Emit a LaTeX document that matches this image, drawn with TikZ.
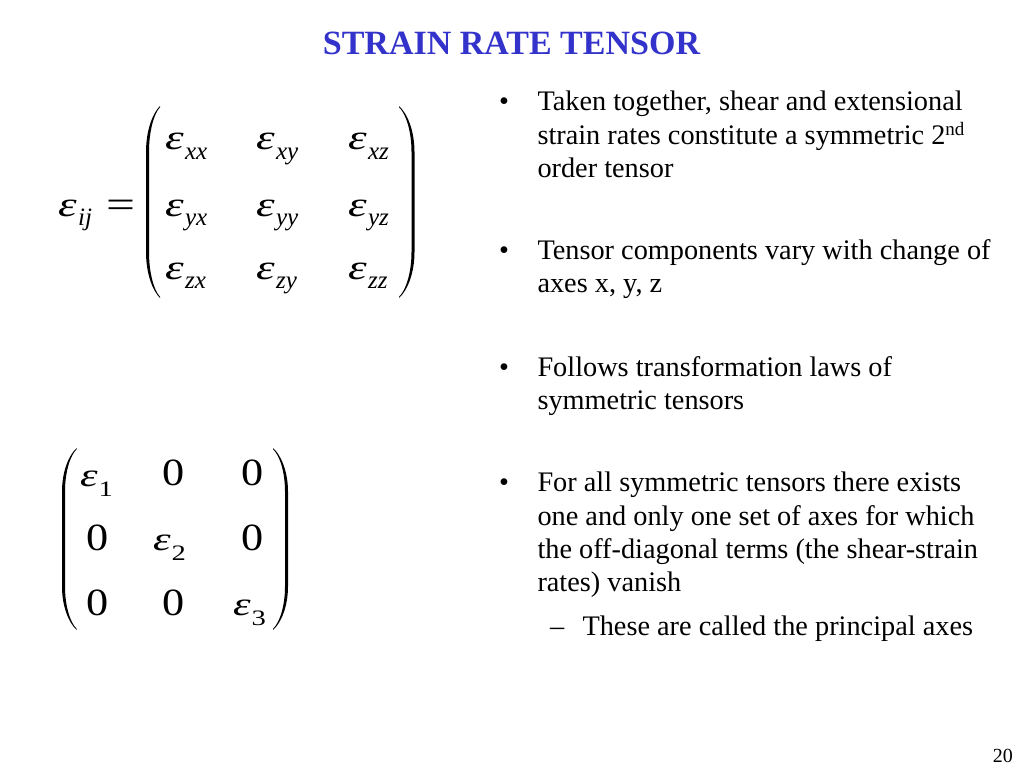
\documentclass[tikz,border=0pt]{standalone}
\usepackage{fontspec}
\usepackage{graphicx}
\setmainfont{Liberation Serif}
\definecolor{titleblue}{RGB}{51,51,204}
\newcommand\bodyfont{\fontsize{28.3}{33}\selectfont}
\newcommand\epsA[1]{\scalebox{1.35}[1]{\fontsize{35}{35}\selectfont\itshape ε}\hspace{1.5pt}\raisebox{-9.5pt}{\fontsize{25}{25}\selectfont\itshape #1}}
\newcommand\epsB[1]{\scalebox{1.35}[1]{\fontsize{33}{33}\selectfont\itshape ε}\hspace{1pt}\raisebox{-10pt}{\scalebox{1.3}[1]{\fontsize{22}{22}\selectfont #1}}}
% paren: #1 tip x, #2 outer x, #3 top y, #4 bottom y, #5 thickness (signed toward tip)
\newcommand\myParen[5]{%
  \pgfmathsetmacro\myD{#1-(#2)}%
  \pgfmathsetmacro\myH{#4-(#3)}%
  \pgfmathsetmacro\myOa{#2+0.45*\myD}%
  \pgfmathsetmacro\myIx{#2+#5}%
  \pgfmathsetmacro\myIa{\myIx+0.45*(\myD-#5)}%
  \pgfmathsetmacro\myYa{#3+0.04*\myH}%
  \pgfmathsetmacro\myYb{#3+0.13*\myH}%
  \pgfmathsetmacro\myYc{#3+0.24*\myH}%
  \pgfmathsetmacro\myYd{#4-0.24*\myH}%
  \pgfmathsetmacro\myYe{#4-0.13*\myH}%
  \pgfmathsetmacro\myYf{#4-0.04*\myH}%
  \pgfmathsetmacro\myTa{#3+1.2}%
  \pgfmathsetmacro\myTb{#4-1.2}%
  \fill (#1,#3) .. controls (\myOa,\myYa) and (#2,\myYb) .. (#2,\myYc) -- (#2,\myYd)
     .. controls (#2,\myYe) and (\myOa,\myYf) .. (#1,#4) -- (#1,\myTb)
     .. controls (\myIa,\myYf) and (\myIx,\myYe) .. (\myIx,\myYd) -- (\myIx,\myYc)
     .. controls (\myIx,\myYb) and (\myIa,\myYa) .. (#1,\myTa) -- cycle;%
}
\tikzset{
  txt/.style={inner sep=0pt, outer sep=0pt, anchor=base west, font=\bodyfont},
  ent/.style={inner sep=0pt, outer sep=0pt, anchor=base west},
  zero/.style={inner sep=0pt, outer sep=0pt, anchor=base, xscale=1.15, font=\fontsize{38.5}{38.5}\selectfont},
}
\begin{document}
\begin{tikzpicture}[x=1pt,y=-1pt]
\useasboundingbox[fill=white] (0,0) rectangle (1024,768);
% title
\node[inner sep=0pt, anchor=base, text=titleblue, font=\fontsize{34}{34}\selectfont\bfseries] (title) at (511.5,55) {STRAIN RATE TENSOR};
% bullets
\node[txt] (b1) at (499,110.7) {•};
\node[txt] (l11) at (537.5,110.7) {Taken together, shear and extensional};
\node[txt] (l12) at (537.5,144) {strain rates constitute a symmetric 2\raisebox{9pt}{\fontsize{19}{19}\selectfont nd}};
\node[txt] (l13) at (537.5,177.3) {order tensor};
\node[txt] (b2) at (499,259.3) {•};
\node[txt] (l21) at (537.5,259.3) {Tensor components vary with change of};
\node[txt] (l22) at (537.5,292.7) {axes x, y, z};
\node[txt] (b3) at (499,376) {•};
\node[txt] (l31) at (537.5,376) {Follows transformation laws of};
\node[txt] (l32) at (537.5,409.3) {symmetric tensors};
\node[txt] (b4) at (499,491.7) {•};
\node[txt] (l41) at (537.5,491.7) {For all symmetric tensors there exists};
\node[txt] (l42) at (537.5,525) {one and only one set of axes for which};
\node[txt] (l43) at (537.5,558.3) {the off-diagonal terms (the shear-strain};
\node[txt] (l44) at (537.5,591.7) {rates) vanish};
\node[txt] (d1) at (550,635) {–};
\node[txt] (l51) at (582.5,635) {These are called the principal axes};
% page number
\node[inner sep=0pt, anchor=base east, font=\fontsize{20}{20}\selectfont] (pg) at (1013,762) {20};
% matrix 1
\node[ent] (eij) at (58,216) {\scalebox{1.35}[1]{\fontsize{35}{35}\selectfont\itshape ε}\hspace{1.5pt}\raisebox{-9.5pt}{\fontsize{25}{25}\selectfont\itshape ij}};
\node[inner sep=0pt, anchor=base, xscale=1.35, font=\fontsize{38}{38}\selectfont] (eq) at (120.5,217) {=};
\myParen{160}{146}{106}{298}{3}
\myParen{399}{414.5}{106}{298}{-3}
\node[ent] (exx) at (165,149.5) {\epsA{xx}};
\node[ent] (exy) at (256,149.5) {\epsA{xy}};
\node[ent] (exz) at (348,149.5) {\epsA{xz}};
\node[ent] (eyx) at (165,216) {\epsA{yx}};
\node[ent] (eyy) at (256,216) {\epsA{yy}};
\node[ent] (eyz) at (348,216) {\epsA{yz}};
\node[ent] (ezx) at (165,279) {\epsA{zx}};
\node[ent] (ezy) at (256,279) {\epsA{zy}};
\node[ent] (ezz) at (348,279) {\epsA{zz}};
% matrix 2
\myParen{76.7}{62}{448}{630}{3}
\myParen{273}{288}{448}{630}{-3}
\node[ent] (e1) at (80,486) {\epsB{1}};
\node[zero] (z12) at (173.7,485.5) {0};
\node[zero] (z13) at (253,485.5) {0};
\node[zero] (z21) at (97.3,550) {0};
\node[ent] (e2) at (153,550.5) {\epsB{2}};
\node[zero] (z23) at (253,550) {0};
\node[zero] (z31) at (97.3,615) {0};
\node[zero] (z32) at (173.7,615) {0};
\node[ent] (e3) at (233,615.5) {\epsB{3}};
\end{tikzpicture}
\end{document}
